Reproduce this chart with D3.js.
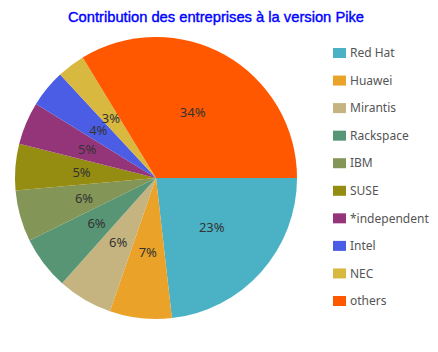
<!DOCTYPE html>
<html>
<head>
<meta charset="utf-8">
<script src="https://cdn.jsdelivr.net/npm/d3@7"></script>
<style>
  body { margin: 0; background: #fff; }
  svg { display: block; }
</style>
</head>
<body>
<figure style="margin:0"></figure>
<script>
const companies = ['Red Hat', 'Huawei', 'Mirantis', 'Rackspace', 'IBM', 'SUSE', '*independent', 'Intel', 'NEC', 'others']
const shares = [23.2, 7.1, 6.3, 6.1, 5.9, 5.3, 4.9, 4.3, 3.2, 33.7]
const colors = ['#4bb2c5', '#eaa228', '#c5b47f', '#579575', '#839557', '#958c12', '#953579', '#4b5de4', '#d8b83f', '#ff5800']

const width = 438
const height = 352
const cx = 156
const cy = 178
const radius = 141

const data = companies.map((name, i) => ({ name, value: shares[i] }))
const total = d3.sum(shares)

const color = d3.scaleOrdinal(companies, colors)

const svg = d3.select('figure').append('svg')
  .attr('width', width)
  .attr('height', height)

// title: regular weight, a faint stroke to thicken it a little
svg.append('text')
  .attr('x', 216)
  .attr('y', 22)
  .attr('text-anchor', 'middle')
  .attr('font-family', 'Liberation Sans, Arial, sans-serif')
  .attr('font-size', 15)
  .attr('textLength', 296)
  .attr('lengthAdjust', 'spacingAndGlyphs')
  .attr('fill', '#0000ff')
  .attr('stroke', '#0000ff')
  .attr('stroke-width', 0.4)
  .text('Contribution des entreprises à la version Pike')

// slices start at 3 o'clock and go clockwise
const pie = d3.pie()
  .value(d => d.value)
  .sort(null)
  .startAngle(Math.PI / 2)
  .endAngle(Math.PI / 2 + 2 * Math.PI)

const arc = d3.arc().innerRadius(0).outerRadius(radius)
const labelArc = d3.arc().innerRadius(radius * 0.53).outerRadius(radius * 0.53)

const g = svg.append('g')
  .attr('transform', `translate(${cx},${cy})`)

const arcs = pie(data)

g.selectAll('path')
  .data(arcs)
  .join('path')
  .attr('d', arc)
  .attr('fill', d => color(d.data.name))

g.selectAll('text')
  .data(arcs)
  .join('text')
  .attr('transform', d => `translate(${labelArc.centroid(d)})`)
  .attr('text-anchor', 'middle')
  .attr('dy', '0.35em')
  .attr('font-family', 'Noto Sans, sans-serif')
  .attr('font-size', 13)
  .attr('fill', '#333')
  .text(d => Math.round(d.data.value / total * 100) + '%')

// legend
const legendY = d3.scalePoint()
  .domain(companies)
  .range([53, 301])

const legend = svg.append('g')
  .selectAll('g')
  .data(companies)
  .join('g')
  .attr('transform', d => `translate(333,${legendY(d)})`)

legend.append('rect')
  .attr('x', 0)
  .attr('y', -5)
  .attr('width', 13)
  .attr('height', 10)
  .attr('fill', d => color(d))

legend.append('text')
  .attr('x', 17)
  .attr('dy', '0.35em')
  .attr('font-family', 'Noto Sans, sans-serif')
  .attr('font-size', 12)
  .attr('fill', '#555')
  .text(d => d)
</script>
</body>
</html>
